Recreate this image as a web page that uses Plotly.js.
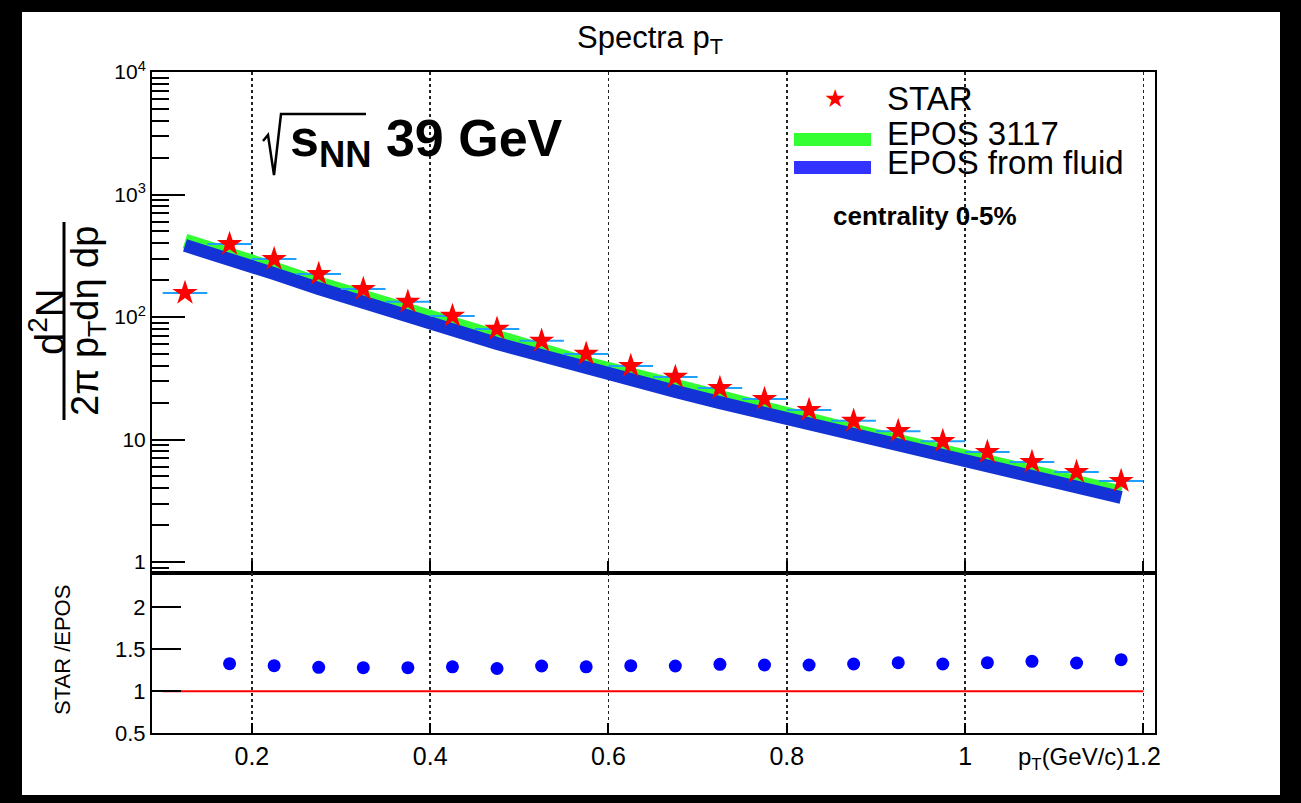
<!DOCTYPE html>
<html>
<head>
<meta charset="utf-8">
<script src="https://cdn.plot.ly/plotly-3.0.1.min.js"></script>
<style>
  html, body { margin:0; padding:0; background:#000; width:1301px; height:803px; overflow:hidden; }
  #chart { position:absolute; left:22px; top:12px; width:1258px; height:783px; background:#fff; }
</style>
</head>
<body>
<div id="chart"></div>
<script>
// ---- data ----
const pt = [0.125, 0.175, 0.225, 0.275, 0.325, 0.375, 0.425, 0.475, 0.525, 0.575, 0.625,
            0.675, 0.725, 0.775, 0.825, 0.875, 0.925, 0.975, 1.025, 1.075, 1.125, 1.175];
const starSpectrum = [157, 394, 297, 224, 169, 133, 102, 80, 64, 50, 39.8,
                      32.4, 26.3, 21.4, 17.4, 14.2, 11.7, 9.7, 7.9, 6.55, 5.43, 4.58];
const starBinHalfWidth = 0.025;
const epos3117 = [417, 327, 246, 186, 143, 110, 84.5, 66.1, 52.8, 41.3, 33.6,
                  26.8, 21.8, 17.7, 14.4, 11.7, 9.72, 7.91, 6.55, 5.33, 4.42, 3.66];
const eposFluid = [384, 300, 226, 171, 131, 101, 77.6, 60.8, 48.5, 38.0, 30.9,
                   24.7, 20.0, 16.3, 13.3, 10.8, 8.93, 7.27, 6.02, 4.90, 4.06, 3.36];
const ratioStarEpos = [0.497, 1.328, 1.304, 1.284, 1.28, 1.28, 1.29, 1.27, 1.30, 1.29, 1.304,
                       1.30, 1.32, 1.312, 1.312, 1.324, 1.34, 1.324, 1.34, 1.356, 1.336, 1.376];
const unityX = [0.1, 1.2];
const unityY = [1, 1];
const xTickVals = [0.2, 0.4, 0.6, 0.8, 1.0, 1.2];
const xTickText = ['0.2', '0.4', '0.6', '0.8', '1', '1.2'];
const yTopTickVals = [1, 10, 100, 1000, 10000];
const yTopTickText = ['1', '10', '10<sup>2</sup>', '10<sup>3</sup>', '10<sup>4</sup>'];
const yBotTickVals = [0.5, 1, 1.5, 2];
const yBotTickText = ['0.5', '1', '1.5', '2'];

// ---- helpers: absolute page pixel -> paper coords ----
const L = 130, R = 125, T = 60, B = 62, W = 1258, H = 783;
const PW = W - L - R, PH = H - T - B;
function PX(xa) { return (xa - 22 - L) / PW; }
function PY(ya) { return (H - B + 12 - ya) / PH; }

const FONT = 'Liberation Sans, Arial, Helvetica, sans-serif';

const traces = [
  { x: pt, y: epos3117, xaxis: 'x', yaxis: 'y', mode: 'lines', name: 'EPOS 3117',
    line: { color: '#33ff33', width: 15 }, hoverinfo: 'skip' },
  { x: pt, y: eposFluid, xaxis: 'x', yaxis: 'y', mode: 'lines', name: 'EPOS from fluid',
    line: { color: '#1433d6', width: 13 }, hoverinfo: 'skip' },
  { x: pt, y: starSpectrum, xaxis: 'x', yaxis: 'y', mode: 'markers', name: 'STAR',
    marker: { symbol: 'star', size: 19, color: '#ff0000', line: { width: 0 } },
    error_x: { type: 'constant', value: starBinHalfWidth, color: '#1ea0ff', thickness: 2, width: 0 },
    cliponaxis: false },
  { x: unityX, y: unityY, xaxis: 'x2', yaxis: 'y2', mode: 'lines',
    line: { color: '#ff0000', width: 2 } },
  { x: pt, y: ratioStarEpos, xaxis: 'x2', yaxis: 'y2', mode: 'markers',
    marker: { symbol: 'circle', size: 13, color: '#0000ff' }, cliponaxis: false }
];

const axisCommon = {
  showline: true, mirror: true, linecolor: 'black', linewidth: 2,
  zeroline: false, tickcolor: 'black', tickwidth: 2
};

const gridX = {
  range: [0.088, 1.213], tickmode: 'array', tickvals: xTickVals, ticktext: xTickText,
  showgrid: true, gridcolor: '#222', griddash: 'dot', gridwidth: 1.6
};

const radical = 'M ' + PX(263) + ' ' + PY(141) + ' L ' + PX(268) + ' ' + PY(135) +
                ' L ' + PX(274) + ' ' + PY(175) + ' L ' + PX(281) + ' ' + PY(114) +
                ' L ' + PX(366) + ' ' + PY(114);

const layout = {
  width: W, height: H,
  paper_bgcolor: 'white', plot_bgcolor: 'white',
  margin: { l: L, r: R, t: T, b: B, pad: 0 },
  showlegend: false,
  font: { family: FONT, color: 'black', size: 18 },
  title: { text: 'Spectra p<sub>T</sub>', font: { family: FONT, size: 31, color: 'black' },
           xref: 'container', x: (650 - 22) / W, xanchor: 'center',
           yref: 'container', y: 1 - (37 - 12) / H, yanchor: 'middle' },
  xaxis: Object.assign({}, axisCommon, gridX, {
    domain: [0, 1], anchor: 'y', showticklabels: false, ticks: 'inside', ticklen: 12 }),
  yaxis: Object.assign({}, axisCommon, {
    domain: [0.242, 1], anchor: 'x', type: 'log', range: [-0.09, 4],
    tickmode: 'array', tickvals: yTopTickVals, ticktext: yTopTickText,
    ticks: 'inside', ticklen: 33, tickfont: { size: 21 }, showgrid: false,
    minor: { ticks: 'inside', ticklen: 17, tickwidth: 2, tickcolor: 'black', dtick: 'D1', showgrid: false } }),
  xaxis2: Object.assign({}, axisCommon, gridX, {
    domain: [0, 1], anchor: 'y2', ticks: 'inside', ticklen: 10, tickfont: { size: 25 } }),
  yaxis2: Object.assign({}, axisCommon, {
    domain: [0, 0.242], anchor: 'x2', range: [0.5, 2.41],
    tickmode: 'array', tickvals: yBotTickVals, ticktext: yBotTickText,
    ticks: 'inside', ticklen: 29, tickfont: { size: 22 }, showgrid: false }),
  shapes: [
    { type: 'path', xref: 'paper', yref: 'paper', path: radical, line: { color: 'black', width: 2.5 } },
    { type: 'rect', xref: 'paper', yref: 'paper', x0: PX(794), x1: PX(871), y0: PY(146), y1: PY(133),
      fillcolor: '#33ff33', line: { color: '#33ff33', width: 0 } },
    { type: 'rect', xref: 'paper', yref: 'paper', x0: PX(794), x1: PX(871), y0: PY(174), y1: PY(161),
      fillcolor: '#3333ff', line: { color: '#3333ff', width: 0 } },
    { type: 'line', xref: 'paper', yref: 'paper', x0: PX(64), x1: PX(64), y0: PY(222), y1: PY(420),
      line: { color: 'black', width: 3 } }
  ],
  annotations: [
    { xref: 'paper', yref: 'paper', x: PX(288), y: PY(142), xanchor: 'left', yanchor: 'middle',
      text: '<b>s<sub>NN</sub> 39 GeV</b>', showarrow: false, font: { family: FONT, size: 52, color: 'black' } },
    { xref: 'paper', yref: 'paper', x: PX(835), y: PY(99), xanchor: 'center', yanchor: 'middle',
      text: '★', showarrow: false, font: { family: 'DejaVu Sans', size: 25, color: '#ff0000' } },
    { xref: 'paper', yref: 'paper', x: PX(885), y: PY(99), xanchor: 'left', yanchor: 'middle',
      text: 'STAR', showarrow: false, font: { family: FONT, size: 33 } },
    { xref: 'paper', yref: 'paper', x: PX(885), y: PY(133), xanchor: 'left', yanchor: 'middle',
      text: 'EPOS 3117', showarrow: false, font: { family: FONT, size: 33 } },
    { xref: 'paper', yref: 'paper', x: PX(885), y: PY(162), xanchor: 'left', yanchor: 'middle',
      text: 'EPOS from fluid', showarrow: false, font: { family: FONT, size: 33 } },
    { xref: 'paper', yref: 'paper', x: PX(831), y: PY(216), xanchor: 'left', yanchor: 'middle',
      text: '<b>centrality 0-5%</b>', showarrow: false, font: { family: FONT, size: 26 } },
    { xref: 'paper', yref: 'paper', x: PX(47), y: PY(322), xanchor: 'center', yanchor: 'middle', textangle: -90,
      text: 'd<sup>2</sup>N', showarrow: false, font: { family: FONT, size: 40 } },
    { xref: 'paper', yref: 'paper', x: PX(88), y: PY(321), xanchor: 'center', yanchor: 'middle', textangle: -90,
      text: '2π p<sub>T</sub>dη dp', showarrow: false, font: { family: FONT, size: 38 } },
    { xref: 'paper', yref: 'paper', x: PX(62), y: PY(650), xanchor: 'center', yanchor: 'middle', textangle: -90,
      text: 'STAR /EPOS', showarrow: false, font: { family: FONT, size: 22 } },
    { xref: 'paper', yref: 'paper', x: PX(1126), y: PY(758), xanchor: 'right', yanchor: 'middle',
      text: 'p<sub>T</sub>(GeV/c)', showarrow: false, font: { family: FONT, size: 24 } }
  ]
};

Plotly.newPlot('chart', traces, layout, { staticPlot: true, displayModeBar: false });
</script>
</body>
</html>
